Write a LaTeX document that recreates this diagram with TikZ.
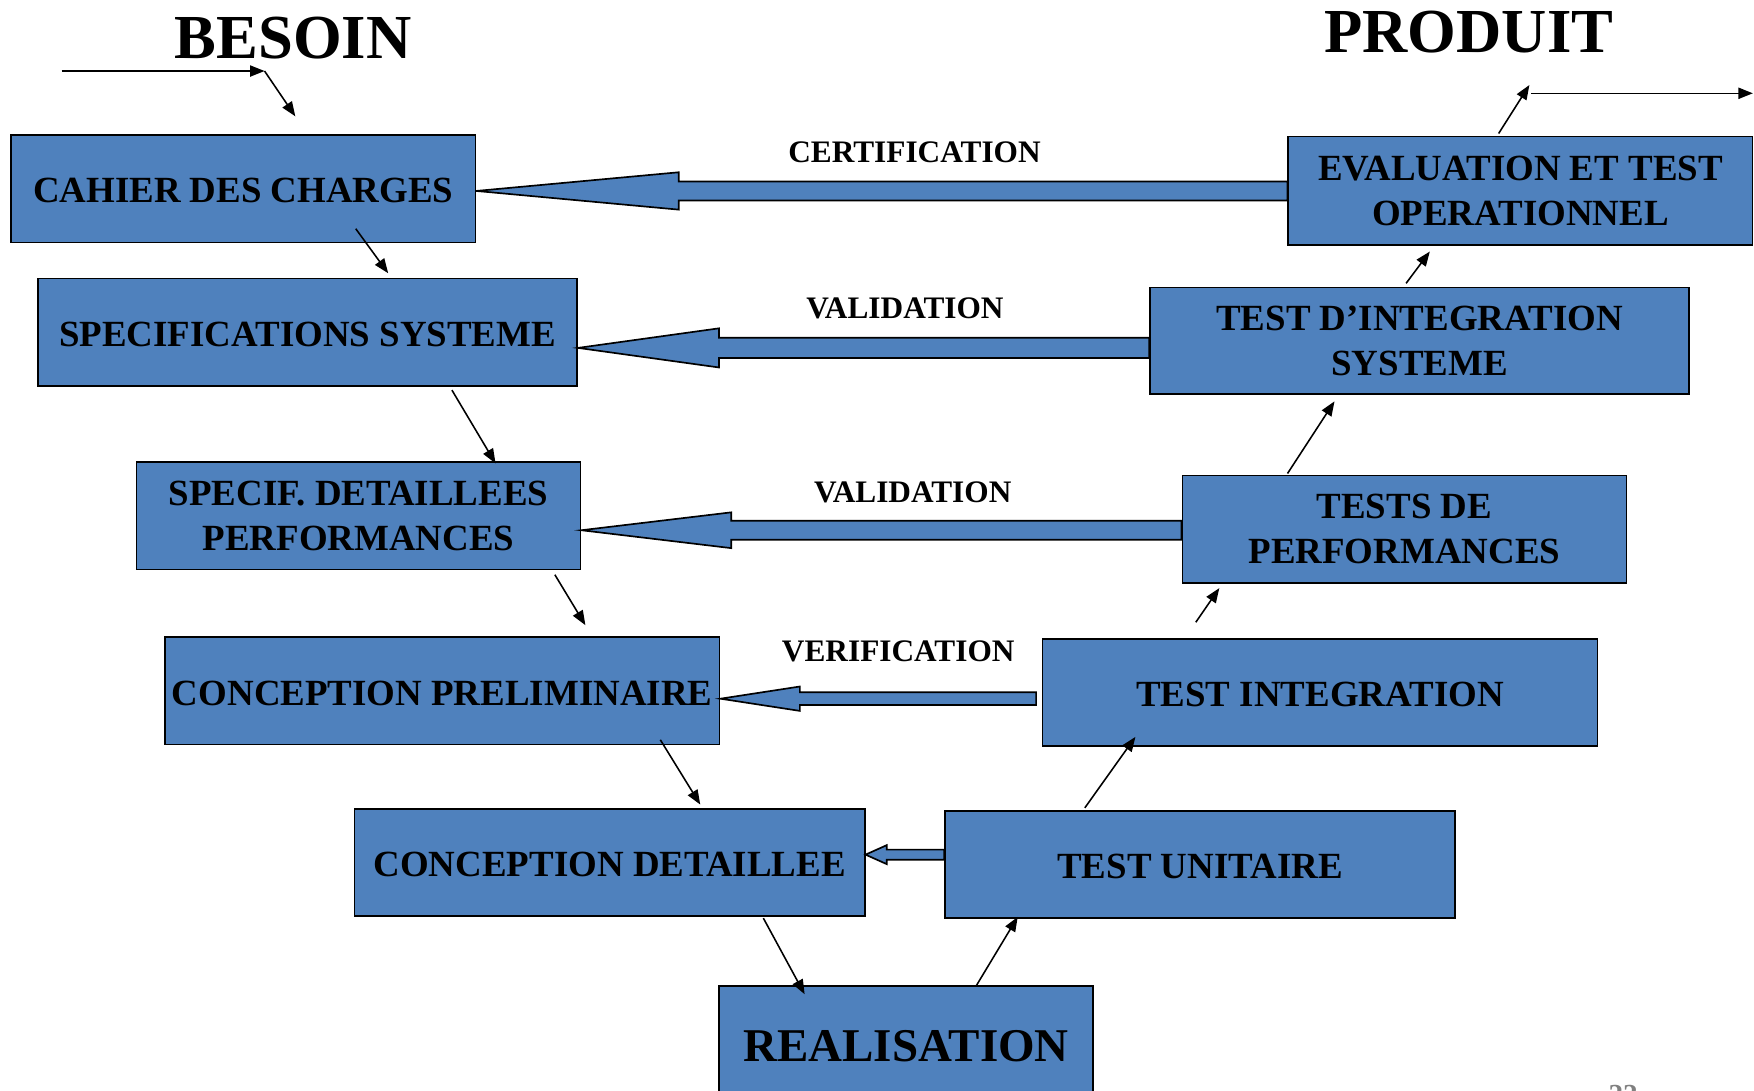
\documentclass[tikz,border=0pt]{standalone}
\usepackage{fontspec}
\setmainfont{Liberation Serif}
\usetikzlibrary{arrows.meta,calc}
\definecolor{boxblue}{RGB}{79,129,189}
\tikzset{
  phase/.style={draw=black, line width=1.5pt, fill=boxblue, align=center,
    inner sep=0pt, font=\fontsize{33}{40}\selectfont\bfseries},
  onerow/.style={text height=25.6pt},
  link/.style={-{Triangle[length=13pt,width=10pt]}, line width=1.4pt},
  flowlabel/.style={inner sep=0pt, font=\fontsize{28}{34}\selectfont\bfseries},
  bigtitle/.style={inner sep=0pt, font=\fontsize{56}{60}\selectfont\bfseries},
  bigarrow/.style={draw=black, line width=1.5pt, fill=boxblue, line join=miter}
}
% wide arrow: tip, tail, head length, head half width, shaft half width
\newcommand{\blockarrow}[5]{%
  \draw[bigarrow] let \p1=(#1), \p2=(#2) in
    (\p1) -- (\x1+#3pt,\y1+#4pt) -- (\x1+#3pt,\y1+#5pt) -- (\x2,\y1+#5pt)
    -- (\x2,\y1-#5pt) -- (\x1+#3pt,\y1-#5pt) -- (\x1+#3pt,\y1-#4pt) -- cycle;}
\begin{document}
\begin{tikzpicture}[x=1pt,y=-1pt]
\useasboundingbox (0,0) rectangle (1568,975);

% Titles
\node[bigtitle] (besoin) at (262,34.3) {BESOIN};
\node[bigtitle] (produit) at (1313,29) {PRODUIT};

% Left branch
\node[phase, onerow, minimum width=415pt, minimum height=96pt] (cahier) at (217.5,168.7) {CAHIER DES CHARGES};
\node[phase, onerow, minimum width=482pt, minimum height=96pt] (specsys) at (275,297) {SPECIFICATIONS SYSTEME};
\node[phase, minimum width=397pt, minimum height=96pt] (specdet) at (320.5,461) {SPECIF. DETAILLEES\\PERFORMANCES};
\node[phase, onerow, minimum width=496pt, minimum height=96pt] (concprel) at (395.3,617.6) {CONCEPTION PRELIMINAIRE};
\node[phase, onerow, minimum width=456pt, minimum height=96pt] (concdet) at (545,771) {CONCEPTION DETAILLEE};

% Bottom
\node[phase, minimum width=334pt, minimum height=104pt, text height=31.5pt,
  font=\fontsize{42}{48}\selectfont\bfseries] (real) at (810,933.5) {REALISATION};

% Right branch
\node[phase, onerow, minimum width=456pt, minimum height=96pt] (testunit) at (1072.8,772.9) {TEST UNITAIRE};
\node[phase, onerow, minimum width=496pt, minimum height=96pt] (testint) at (1180,619) {TEST INTEGRATION};
\node[phase, minimum width=397pt, minimum height=96pt] (testperf) at (1255.5,473) {TESTS DE\\PERFORMANCES};
\node[phase, minimum width=482pt, minimum height=95pt] (testintsys) at (1269,304.5) {TEST D’INTEGRATION\\SYSTEME};
\node[phase, minimum width=415pt, minimum height=97pt] (eval) at (1359.2,170.6) {EVALUATION ET TEST\\OPERATIONNEL};

% Feedback arrows
\blockarrow{[yshift=-2pt]cahier.east}{eval.west}{181}{16.7}{8.5}
\blockarrow{[yshift=-14pt]specsys.east}{testintsys.west}{126}{17.5}{9}
\blockarrow{[yshift=-13pt]specdet.east}{testperf.west}{134}{16}{8.5}
\blockarrow{[yshift=-7pt]concprel.east}{[xshift=-5pt]testint.west}{71}{10.9}{5.7}
\blockarrow{[yshift=7pt]concdet.east}{testunit.west}{19}{8.5}{4.5}

\node[flowlabel] (lblcert) at (817.5,136.4) {CERTIFICATION};
\node[flowlabel] (lblval) at (809,275.7) {VALIDATION};
\node[flowlabel] (lblvaltwo) at (816,440) {VALIDATION};
\node[flowlabel] (lblverif) at (803,582.5) {VERIFICATION};

% Descending steps
\foreach \f/\fx/\fy/\t/\tx/\ty in {cahier/100.5/13/specsys/72/4,
    specsys/129/-3/specdet/122.5/-2, specdet/175.5/-4/concprel/128/10,
    concprel/195/5/concdet/81/3, concdet/137.4/-1/real/-90.7/-8}
  \draw[link] ([xshift=\fx pt,yshift=\fy pt]\f.south) -- ([xshift=\tx pt,yshift=\ty pt]\t.north);

% Ascending steps
\foreach \f/\fx/\fy/\t/\tx/\ty in {real/63/0/testunit/-163/2,
    testunit/-103/2/testint/-165/9, testint/-111/14/testperf/-165.5/-4,
    testperf/-104.5/1/testintsys/-76/-6, testintsys/-12/3/eval/-81/-5}
  \draw[link] ([xshift=\fx pt,yshift=\fy pt]\f.north) -- ([xshift=\tx pt,yshift=\ty pt]\t.south);

% In and out
\coordinate (bstart) at (55,63.5);
\coordinate (bturn) at (236.5,63.5);
\coordinate (bend) at (264,104);
\draw[link] (bstart) -- (bturn);
\draw[link] (bturn) -- (bend);

\coordinate (ptip) at (1367.2,76);
\coordinate (pstart) at (1369,83.4);
\coordinate (pend) at (1567,83.4);
\draw[link] ([xshift=-19.5pt,yshift=2pt]eval.north) -- (ptip);
\draw[link] (pstart) -- (pend);

% page number
\node[anchor=north, inner sep=0pt, text=gray, font=\fontsize{26}{30}\selectfont\bfseries] (pagenum) at (1451,970) {22};

\end{tikzpicture}
\end{document}
